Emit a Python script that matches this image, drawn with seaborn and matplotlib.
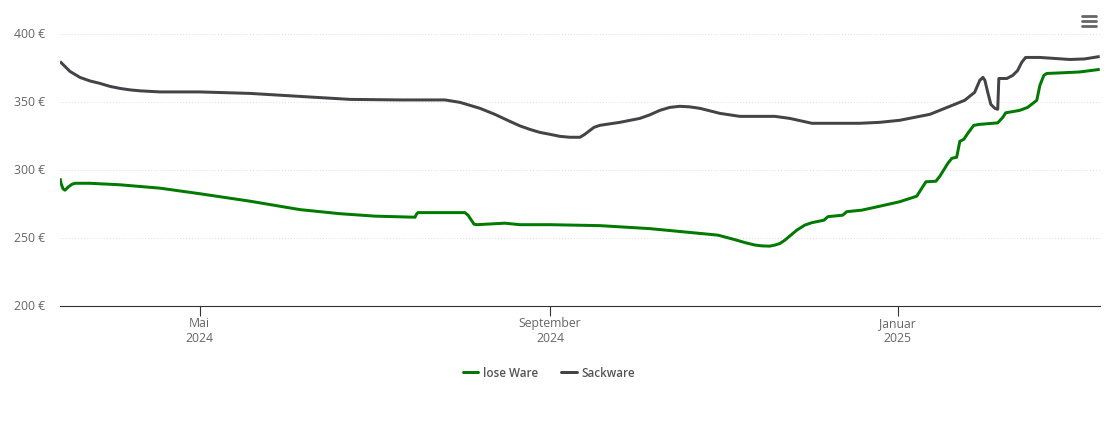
import matplotlib
matplotlib.use("Agg")
import matplotlib.pyplot as plt
from matplotlib.lines import Line2D
from matplotlib.transforms import ScaledTranslation
import pandas as pd
import seaborn as sns

START = pd.Timestamp("2024-03-13")

# days since START, price in euro
lose_days = [0, 0.35, 1.05, 1.75, 2.8, 4.2, 5.3, 10.5, 21, 35.1, 49.1, 66.7, 84.2, 98.2, 110.5, 124.6, 125.1, 125.6,
             142.1, 143.2, 145.3, 146.3, 156.1, 161.4, 171.9, 189.5, 207, 230.9, 236.8, 240.4, 243.9, 246.3, 249.1,
             250.9, 252.6, 254.4, 256.1, 258.6, 261.4, 263.9, 268.1, 269.5, 274.7, 276.1, 281.4, 287.7, 294.7, 300.7,
             301.8, 303.9, 307.4, 308.8, 311.6, 313, 314.7, 315.8, 317.2, 318.6, 320.7, 322.8, 329.1, 330.9, 331.9,
             336.8, 339.6, 342.8, 343.9, 345.3, 346.3, 350.9, 357.9, 364.9]
lose_price = [294.1, 290.4, 286.4, 285.3, 287.5, 289.7, 290.4, 290.4, 289.3, 286.8, 282.7, 277.2, 271.0, 268.0, 266.2,
              265.4, 267.6, 268.8, 268.8, 266.9, 260.3, 259.9, 261.0, 259.9, 259.9, 259.2, 257.0, 252.2, 248.9, 246.7,
              244.9, 244.3, 244.1, 244.9, 246.0, 248.5, 251.5, 255.9, 259.6, 261.4, 263.2, 265.8, 266.9, 269.5, 270.6,
              273.5, 276.8, 280.9, 284.6, 291.5, 291.9, 295.6, 305.1, 308.8, 309.6, 321.3, 322.8, 327.2, 333.1, 333.8,
              334.9, 339.0, 342.3, 344.1, 346.3, 351.5, 362.5, 369.9, 371.3, 371.7, 372.4, 374.3]

sack_days = [0, 3.5, 7, 10.5, 14, 17.5, 21, 24.6, 28.1, 35.1, 49.1, 66.7, 84.2, 101.8, 119.3, 135.1, 140.4, 147.4,
             152.6, 157.9, 161.4, 164.9, 168.4, 171.9, 175.4, 178.9, 182.5, 184.2, 187.4, 189.5, 196.5, 203.5, 207,
             210.5, 214, 217.5, 221, 224.6, 228, 231.6, 238.6, 250.9, 256.1, 263.9, 280.7, 287.7, 294.7, 305.3, 312.3,
             317.5, 321, 322.8, 323.9, 324.6, 325.6, 326.7, 328.1, 329.1, 329.5, 332.3, 334.4, 336.1, 337.5, 338.9,
             343.9, 354.4, 359.6, 364.9]
sack_price = [380.1, 372.8, 368.4, 365.8, 364, 361.8, 360.3, 359.2, 358.5, 357.7, 357.7, 356.6, 354.4, 352.2, 351.8,
              351.8, 350, 345.6, 341.2, 336, 332.7, 330.1, 327.9, 326.5, 325, 324.3, 324.3, 326.5, 331.6, 333.1, 335.3,
              338.2, 340.8, 344.1, 346.3, 347.1, 346.7, 345.6, 343.8, 341.9, 339.7, 339.7, 338.2, 334.6, 334.6, 335.3,
              336.8, 341.2, 347.1, 351.5, 357.4, 366.2, 368.4, 366.2, 357.4, 348.5, 345.6, 344.9, 367.6, 367.6, 369.9,
              373.5, 379.4, 383.1, 383.1, 381.6, 382, 383.8]

y_ticks = [200, 250, 300, 350, 400]
x_ticks = ["2024-05-01", "2024-09-01", "2025-01-01"]
x_labels = ["Mai\n2024", "September\n2024", "Januar\n2025"]

df = pd.concat([
    pd.DataFrame({"tag": lose_days, "preis": lose_price, "sorte": "lose Ware"}),
    pd.DataFrame({"tag": sack_days, "preis": sack_price, "sorte": "Sackware"}),
])
df["datum"] = START + pd.to_timedelta(df["tag"], unit="D")

sns.set_style("white")
plt.rcParams["font.family"] = ["Open Sans", "DejaVu Sans"]

W, H = 1110, 423
fig = plt.figure(figsize=(W / 100, H / 100), dpi=100)
ax = fig.add_axes([60 / W, (H - 306) / H, 1040 / W, 271.5 / H])

sns.lineplot(data=df, x="datum", y="preis", hue="sorte", palette={"lose Ware": "#007a00", "Sackware": "#434348"},
             linewidth=2.15, estimator=None, sort=False, ax=ax, legend=False,
             solid_joinstyle="round", solid_capstyle="butt")

ax.set_xlim(START, START + pd.Timedelta(days=365))
ax.set_ylim(200, 400)
ax.set_xlabel("")
ax.set_ylabel("")

ax.set_yticks(y_ticks)
ax.set_yticklabels([f"{v} €" for v in y_ticks])
ax.set_xticks(pd.to_datetime(x_ticks))
ax.set_xticklabels(x_labels, linespacing=1.2)
ax.tick_params(axis="y", left=False, length=0, pad=10.5, labelsize=8.8, labelcolor="#666666")
ax.tick_params(axis="x", bottom=True, length=7.2, width=0.8, color="#333333", pad=0.5, labelsize=8.8,
               labelcolor="#666666")

# y labels sit a little above their grid lines
shift_up = ScaledTranslation(0, 1.5 / 100, fig.dpi_scale_trans)
for lab in ax.get_yticklabels():
    lab.set_transform(lab.get_transform() + shift_up)

ax.grid(axis="y", color="#dcdcdc", linestyle=(0, (1, 2)), linewidth=0.7)
ax.grid(axis="x", visible=False)
ax.set_axisbelow(True)
for s in ["top", "left", "right"]:
    ax.spines[s].set_visible(False)
ax.spines["bottom"].set_color("#333333")
ax.spines["bottom"].set_linewidth(0.8)

handles = [Line2D([], [], color="#007a00", lw=2.15), Line2D([], [], color="#434348", lw=2.15)]
leg = fig.legend(handles, ["lose Ware", "Sackware"], loc="center", bbox_to_anchor=(549 / W, (H - 373) / H), ncol=2,
                 frameon=False, fontsize=8.4, handlelength=1.35, handletextpad=0.4, columnspacing=2.0)
for t in leg.get_texts():
    t.set_color("#555555")
    t.set_fontweight("semibold")

# menu icon
for y_px in [16.5, 21.5, 26.5]:
    fig.add_artist(Line2D([1081.5 / W, 1096 / W], [(H - y_px) / H] * 2, color="#666666", lw=2.0,
                          solid_capstyle="round"))

fig.savefig("out.png", dpi=100)
